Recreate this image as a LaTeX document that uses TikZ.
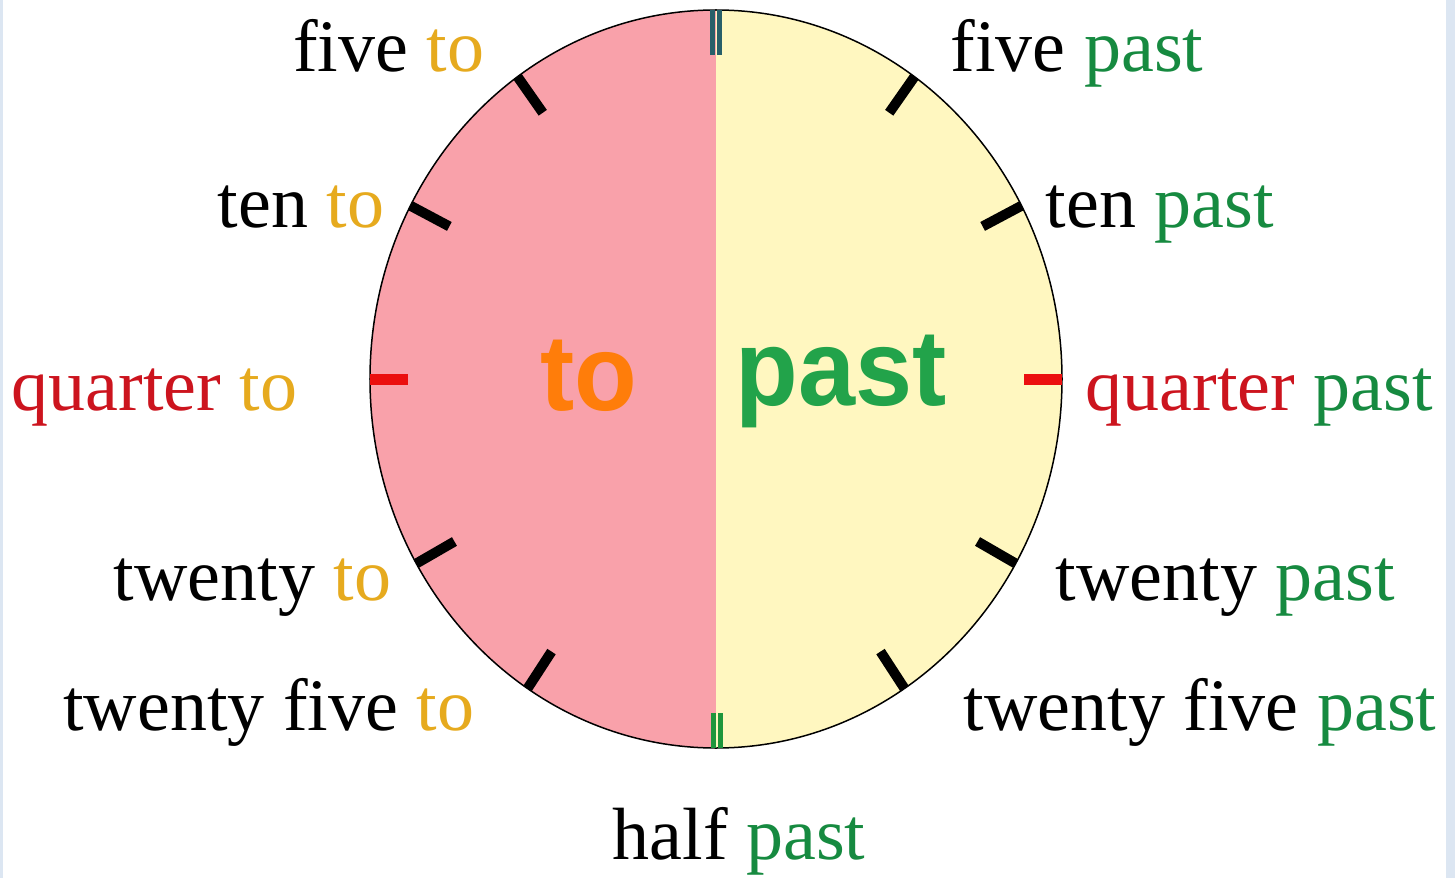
\documentclass[tikz,border=0pt]{standalone}
\usepackage{fontspec}
\setmainfont{Liberation Serif}
\newfontfamily\clocksans{Liberation Sans}
\definecolor{clockpink}{RGB}{249,161,170}
\definecolor{clockcream}{RGB}{255,247,192}
\definecolor{smallto}{RGB}{230,170,30}
\definecolor{smallpast}{RGB}{22,138,64}
\definecolor{quarterred}{RGB}{204,20,30}
\definecolor{bigorange}{RGB}{255,125,10}
\definecolor{biggreen}{RGB}{34,163,74}
\definecolor{tickred}{RGB}{235,15,15}
\definecolor{topteal}{RGB}{40,95,105}
\definecolor{botgreen}{RGB}{30,150,60}
\definecolor{edgeblue}{RGB}{220,230,242}
\tikzset{
  every picture/.style={line width=0.75pt},
  word/.style={inner sep=0pt, font=\fontsize{37pt}{40pt}\selectfont},
  leftword/.style={word, anchor=base east},
  rightword/.style={word, anchor=base west},
  bigword/.style={inner sep=0pt, anchor=base west, xscale=0.95, font=\fontsize{54pt}{60pt}\selectfont\clocksans\bfseries},
  hourtick/.style={line width=5pt},
  quartertick/.style={line width=5.5pt, color=tickred},
  topmark/.style={line width=2.5pt, color=topteal},
  botmark/.style={line width=2.5pt, color=botgreen},
}
\newcommand\wto{\textcolor{smallto}{to}}
\newcommand\wpast{\textcolor{smallpast}{past}}

\begin{document}
\begin{tikzpicture}[x=0.5pt, y=0.5pt]
  \useasboundingbox (-716,-499) rectangle (739,379);
  \fill[edgeblue] (-716,-499) rectangle (-713,379);
  \fill[edgeblue] (730,-499) rectangle (739,379);
  % clock face: "to" half on the left, "past" half on the right
  \fill[clockpink] (0,369) arc[start angle=90, end angle=270, x radius=346, y radius=369] -- cycle;
  \fill[clockcream] (0,369) arc[start angle=90, end angle=-90, x radius=346, y radius=369] -- cycle;
  \draw (0,0) ellipse[x radius=346, y radius=369];
  \foreach \a in {55,28,-30,-57,125,152,210,237}
    \draw[hourtick] (\a:346 and 369) -- (\a:302 and 325);
  \draw[quartertick] (0:346 and 369) -- (0:308 and 330);
  \draw[quartertick] (180:346 and 369) -- (180:308 and 330);
  \draw[topmark] (-3.5,369) -- (-3.5,324);
  \draw[topmark] (3.5,369) -- (3.5,324);
  \draw[botmark] (-3,-369) -- (-3,-334);
  \draw[botmark] (4.5,-369) -- (4.5,-334);

  \node[bigword, text=bigorange] (bigto) at (-176,-31) {to};
  \node[bigword, text=biggreen] (bigpast) at (19,-26) {past};

  \node[leftword] (fiveto) at (-231,307) {five \wto};
  \node[rightword] (fivepast) at (234,307) {five \wpast};
  \node[leftword] (tento) at (-331,151) {ten \wto};
  \node[rightword] (tenpast) at (329,151) {ten \wpast};
  \node[leftword] (quarterto) at (-418,-31) {\textcolor{quarterred}{quarter} \wto};
  \node[rightword] (quarterpast) at (369,-31) {\textcolor{quarterred}{quarter} \wpast};
  \node[leftword] (twentyto) at (-324,-221) {twenty \wto};
  \node[rightword] (twentypast) at (339,-221) {twenty \wpast};
  \node[leftword] (twentyfiveto) at (-241,-351) {twenty five \wto};
  \node[rightword] (twentyfivepast) at (247,-351) {twenty five \wpast};
  \node[rightword] (halfpast) at (-104,-480) {half \wpast};
\end{tikzpicture}
\end{document}
